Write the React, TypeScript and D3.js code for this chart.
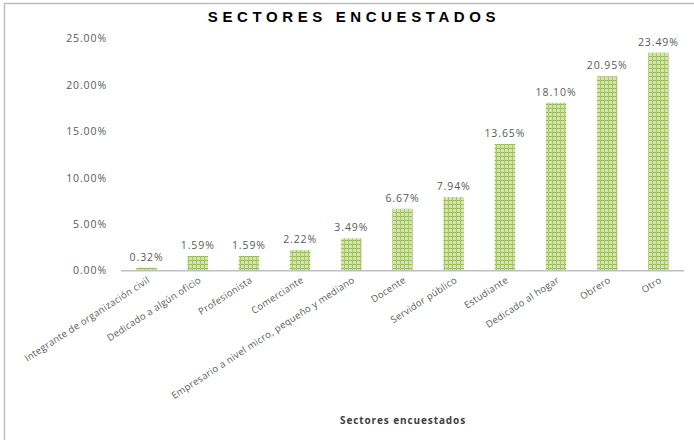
import React from "react";
import * as d3 from "d3";

const categories = [
  "Integrante de organización civil",
  "Dedicado a algún oficio",
  "Profesionista",
  "Comerciante",
  "Empresario a nivel micro, pequeño y mediano",
  "Docente",
  "Servidor público",
  "Estudiante",
  "Dedicado al hogar",
  "Obrero",
  "Otro",
];
const values = [0.32, 1.59, 1.59, 2.22, 3.49, 6.67, 7.94, 13.65, 18.1, 20.95, 23.49];
const yTicks = [0, 5, 10, 15, 20, 25];

const W = 694;
const H = 440;
const margin = { top: 38.7, left: 121, right: 10, bottom: 169.3 };

export default function App() {
  const x = d3
    .scaleBand<string>()
    .domain(categories)
    .range([margin.left, 684])
    .paddingInner(0.6)
    .paddingOuter(0.3);
  const y = d3.scaleLinear().domain([0, 25]).range([H - margin.bottom, margin.top]);
  const grey = "#595959";

  return (
    <svg
      width={W}
      height={H}
      style={{ position: "absolute", left: 0, top: 0, fontFamily: "'Open Sans', 'DejaVu Sans', sans-serif" }}
    >
      <defs>
        <pattern id="dots" width="4" height="4" patternUnits="userSpaceOnUse">
          <rect width="4" height="4" fill="#d4e3b4" />
          <rect width="4" height="1" fill="#9bbb59" />
          <rect width="1" height="4" fill="#a9c66e" />
        </pattern>
      </defs>
      <rect width={W} height={H} fill="#fff" />
      <path d={`M4.5,${H} V3.5 H${W}`} fill="none" stroke="#bfbfbf" strokeWidth={1.5} />

      <text
        x={354}
        y={22}
        textAnchor="middle"
        fontSize={15}
        fontWeight="bold"
        letterSpacing={4.6}
        fontFamily="'Liberation Sans', Arial, sans-serif"
        fill="#000"
      >
        SECTORES ENCUESTADOS
      </text>

      {yTicks.map((t) => (
        <text key={t} x={107} y={y(t)} dy="0.35em" textAnchor="end" fontSize={10.5} letterSpacing={0.9} fill={grey}>
          {t.toFixed(2)}%
        </text>
      ))}

      {categories.map((c, i) => (
        <g key={c}>
          <rect
            x={x(c)}
            y={y(values[i])}
            width={x.bandwidth()}
            height={y(0) - y(values[i])}
            fill="url(#dots)"
          />
          <text
            x={(x(c) as number) + x.bandwidth() / 2}
            y={y(values[i]) - 7}
            textAnchor="middle"
            fontSize={10.5}
            letterSpacing={0.9}
            fill={grey}
          >
            {values[i].toFixed(2)}%
          </text>
          <text
            transform={`translate(${(x(c) as number) + x.bandwidth() / 2 + 4},${y(0) + 11}) rotate(-33)`}
            textAnchor="end"
            fontSize={9.5}
            letterSpacing={0.3}
            fill={grey}
          >
            {c}
          </text>
        </g>
      ))}

      <line x1={margin.left} x2={684} y1={y(0)} y2={y(0)} stroke="#bfbfbf" strokeWidth={1.5} />

      <text x={403} y={424} textAnchor="middle" fontSize={10} letterSpacing={0.9} fontWeight="bold" fill="#404040">
        Sectores encuestados
      </text>
    </svg>
  );
}
